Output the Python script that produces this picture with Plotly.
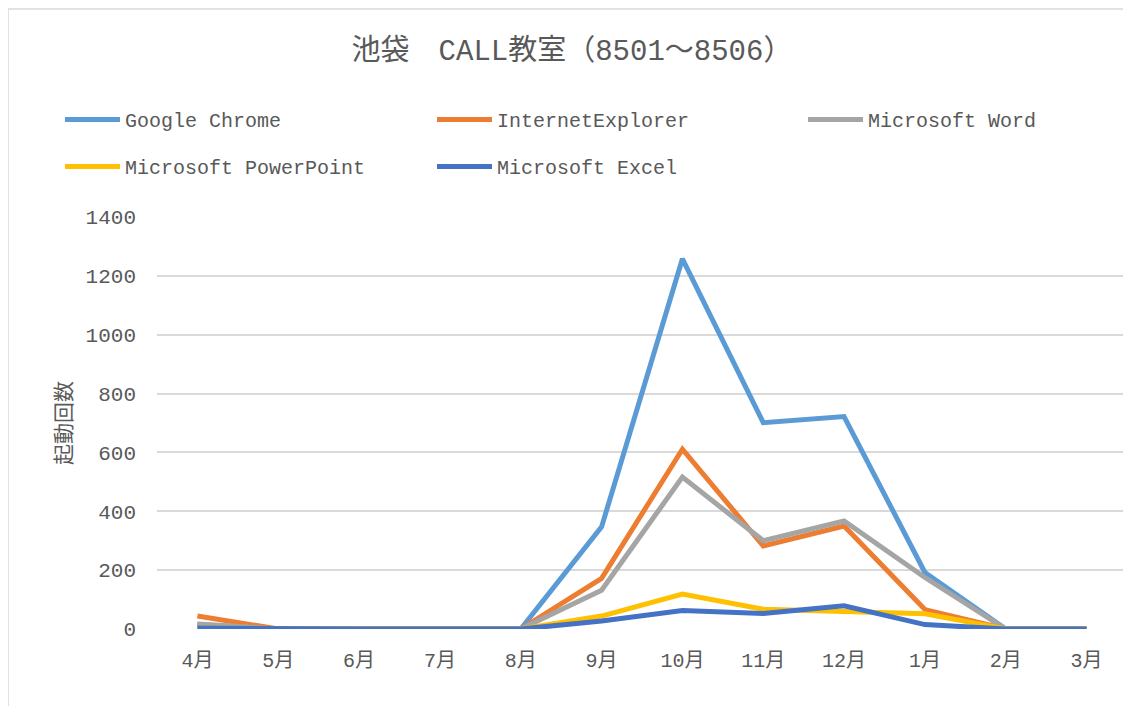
import plotly.graph_objects as go

months = ["4月", "5月", "6月", "7月", "8月", "9月", "10月", "11月", "12月", "1月", "2月", "3月"]
chrome = [15, 0, 0, 0, 0, 347, 1258, 701, 722, 192, 0, 0]
ie = [44, 0, 0, 0, 0, 172, 611, 282, 350, 66, 0, 0]
word = [17, 0, 0, 0, 0, 132, 516, 300, 367, 175, 0, 0]
ppt = [3, 0, 0, 0, 0, 44, 119, 67, 59, 52, 0, 0]
excel = [3, 0, 0, 0, 0, 27, 63, 53, 79, 15, 0, 0]

names = ["Google Chrome", "InternetExplorer", "Microsoft Word", "Microsoft PowerPoint", "Microsoft Excel"]
series = [chrome, ie, word, ppt, excel]
colors = ["#5B9BD5", "#ED7D31", "#A5A5A5", "#FFC000", "#4472C4"]

FONT = "Liberation Mono, Noto Sans CJK JP, monospace"
GRAY = "#595959"

# page body margin offset (figure drawn at 8px,8px in the window)
OFF = 8
W, H = 1131, 706
L = 157 - OFF
T = 217 - OFF
R = W - (1127 - OFF)
B = H - (629 - OFF)
pw, ph = W - L - R, H - T - B

# legend entry anchor positions
leg_pos = [(65, 120), (437, 120), (808, 120), (65, 167), (437, 167)]
leg_ids = ["legend", "legend2", "legend3", "legend4", "legend5"]

fig = go.Figure()
for n, s, c, lid in zip(names, series, colors, leg_ids):
    fig.add_trace(go.Scatter(x=months, y=s, name=n, mode="lines", legend=lid,
                             line=dict(color=c, width=5, shape="linear")))

layout_legends = {}
for lid, (px, py) in zip(leg_ids, leg_pos):
    layout_legends[lid] = dict(
        x=(px - 13 - L) / pw, xanchor="left",
        y=1 + (T - (py - 28)) / ph, yanchor="top",
        font=dict(family=FONT, size=20, color=GRAY),
        itemwidth=55, bgcolor="rgba(0,0,0,0)", orientation="h",
    )

fig.update_layout(
    width=W, height=H,
    margin=dict(l=L, r=R, t=T, b=B, autoexpand=False),
    paper_bgcolor="white", plot_bgcolor="white",
    font=dict(family=FONT, color=GRAY, size=20),
    title=dict(text="池袋　CALL教室（8501～8506）", x=(572 - OFF) / W, xanchor="center",
               xref="container", y=1 - (50 - OFF) / H, yanchor="middle",
               font=dict(family=FONT, size=29, color=GRAY)),
    xaxis=dict(type="category", range=[-0.5, 11.5], showgrid=False,
               showline=False, ticks="", ticklabelstandoff=17,
               tickfont=dict(family=FONT, size=20, color=GRAY),
               fixedrange=True),
    yaxis=dict(range=[0, 1400], dtick=200, showgrid=True, gridcolor="#D9D9D9",
               gridwidth=1.5, zeroline=False, showline=False, ticks="",
               tickfont=dict(family=FONT, size=21, color=GRAY),
               ticklabelstandoff=20,
               title=dict(text="起動回数", font=dict(family=FONT, size=21, color=GRAY),
                          standoff=8),
               fixedrange=True),
    showlegend=True,
    **layout_legends,
)

# outer chart border: only top and left edges are visible (cropped chart)
bx = (0 - L) / pw
by = 1 + (T - 1) / ph
fig.add_shape(type="line", xref="paper", yref="paper",
              x0=bx, x1=(W + 20 - L) / pw, y0=by, y1=by,
              line=dict(color="#D9D9D9", width=1.5), layer="below")
fig.add_shape(type="line", xref="paper", yref="paper",
              x0=bx, x1=bx, y0=by, y1=-(H + 20 - T - ph) / ph,
              line=dict(color="#D9D9D9", width=1.5), layer="below")

fig.write_html("out.html")
